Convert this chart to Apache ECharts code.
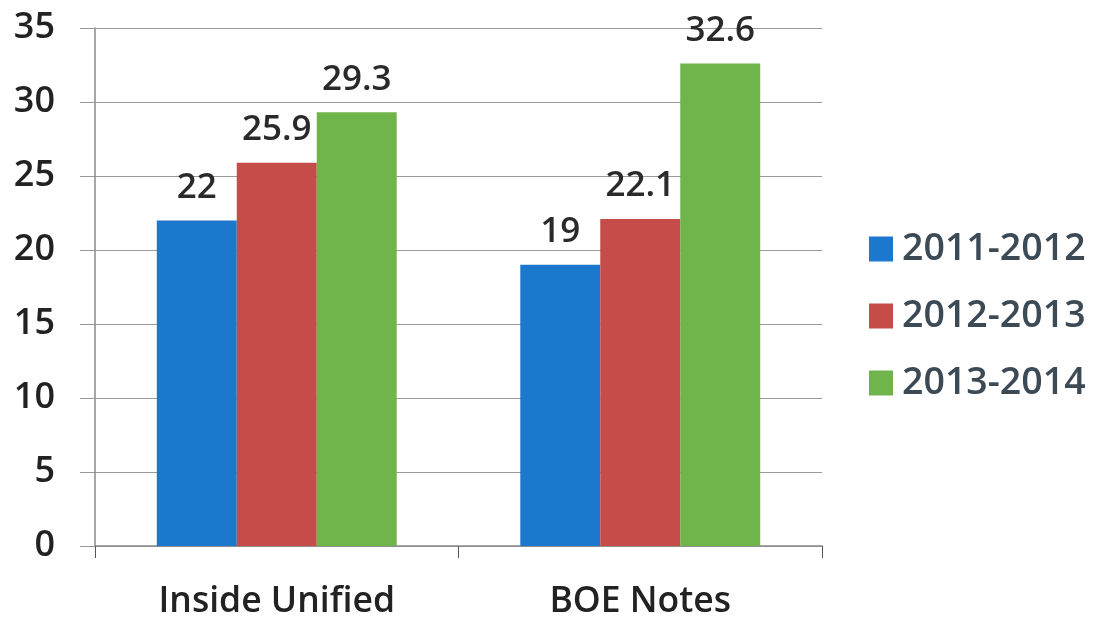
<!DOCTYPE html>
<html><head><meta charset="utf-8">
<script src="https://cdn.jsdelivr.net/npm/echarts@6/dist/echarts.min.js"></script>
<style>html,body{margin:0;padding:0;background:#fff}#c{width:1102px;height:620px}</style>
</head><body><div id="c"></div>
<script>
const categories = ['Inside Unified', 'BOE Notes'];
const seriesNames = ['2011-2012', '2012-2013', '2013-2014'];
const values2011 = [22, 19];
const values2012 = [25.9, 22.1];
const values2013 = [29.3, 32.6];
const yTicks = [0, 5, 10, 15, 20, 25, 30, 35];

const colors = ['#1c78cc', '#c54c48', '#6fb54c'];
const font = 'Open Sans';
const allValues = [values2011, values2012, values2013];
const chart = echarts.init(document.getElementById('c'), null, {renderer: 'canvas'});
chart.setOption({
  animation: false,
  color: colors,
  grid: {left: 95, right: 280, top: 28, bottom: 73, containLabel: false},
  legend: {
    orient: 'vertical', left: 864, top: 225, itemGap: 29,
    itemWidth: 24, itemHeight: 25, icon: 'rect',
    textStyle: {fontFamily: font, fontSize: 37.5, fontWeight: 600, color: '#3c4a56', padding: [0, 0, 0, 4]},
    data: seriesNames
  },
  xAxis: {
    type: 'category', data: categories,
    axisLine: {lineStyle: {color: '#8a8a8a', width: 1.5}},
    axisTick: {show: true, length: 12, lineStyle: {color: '#555'}},
    axisLabel: {fontFamily: font, fontSize: 35.5, fontWeight: 600, color: '#222', margin: 38}
  },
  yAxis: {
    type: 'value', min: yTicks[0], max: yTicks[yTicks.length - 1], interval: 5,
    axisLine: {show: true, lineStyle: {color: '#8a8a8a', width: 1.5}},
    axisTick: {show: true, length: 15, lineStyle: {color: '#999'}},
    splitLine: {lineStyle: {color: '#9a9a9a', width: 1.2}},
    axisLabel: {fontFamily: font, fontSize: 36, fontWeight: 600, color: '#222', margin: 40}
  },
  series: seriesNames.map((n, i) => ({
    name: n, type: 'bar', data: allValues[i],
    barGap: '0%', barCategoryGap: '34%',
    label: {show: true, position: 'top', distance: 15, fontFamily: font, fontSize: 35, fontWeight: 600, color: '#2a2a2a'}
  }))
});
</script></body></html>
